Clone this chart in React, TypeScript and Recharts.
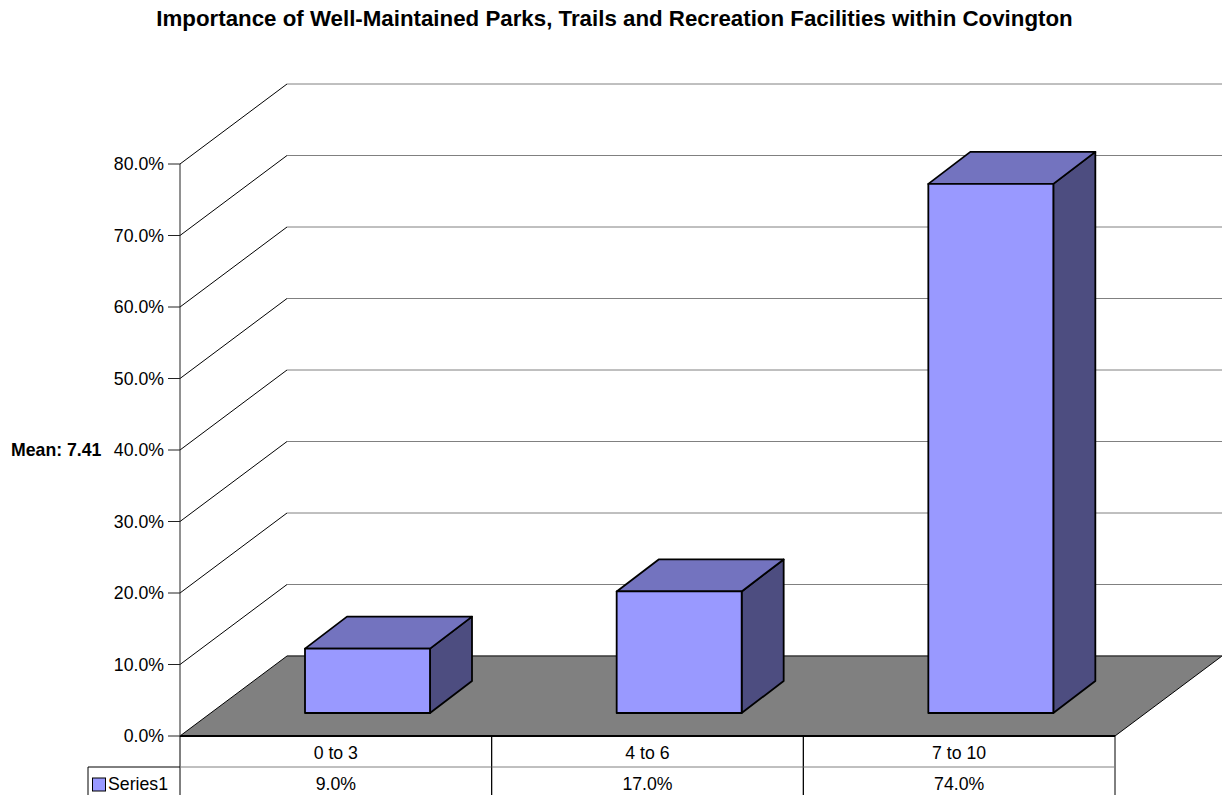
import { Bar, BarChart, ReferenceLine, XAxis, YAxis } from 'recharts'

const title =
  'Importance of Well-Maintained Parks, Trails and Recreation Facilities within Covington'
const categories = ['0 to 3', '4 to 6', '7 to 10']
const series1 = [9.0, 17.0, 74.0]
const seriesName = 'Series1'
const yTicks = [0, 10, 20, 30, 40, 50, 60, 70, 80]
const meanLabel = 'Mean: 7.41'

const data = categories.map((category, i) => ({ category, value: series1[i] }))

const W = 1222
const H = 795
const MARGIN = { top: 164, right: 107, bottom: 0, left: 0 }
const Y_AXIS_W = 180
const X_AXIS_H = 59
const PLOT_W = W - Y_AXIS_W - MARGIN.right
const BAND = PLOT_W / categories.length

// fake 3d: depth of the floor / walls and where the bars sit in it
const DEPTH_X = 107
const DEPTH_Y = 80
const BAR_SHIFT_X = 31.5
const BAR_SHIFT_Y = 23
const BAR_DEPTH_X = 42
const BAR_DEPTH_Y = 32

const ROW_H = 31
const LEGEND_W = 92
const FONT = '"Liberation Sans", Arial, Helvetica, sans-serif'
const FS = 17.7

const FRONT = '#9999ff'
const TOP = '#7373bf'
const SIDE = '#4d4d80'
const FLOOR = '#808080'

function pct(v: number) {
  return `${v.toFixed(1)}%`
}

function WallLine(props: any) {
  const { x1, y1, x2 } = props
  return (
    <g>
      <line x1={x1} y1={y1} x2={x1 + DEPTH_X} y2={y1 - DEPTH_Y} stroke="#000" />
      <line
        x1={x1 + DEPTH_X}
        y1={y1 - DEPTH_Y}
        x2={x2 + DEPTH_X}
        y2={y1 - DEPTH_Y}
        stroke="#808080"
      />
    </g>
  )
}

function Floor(props: any) {
  const { x1, y1, x2 } = props
  const pts = `${x1},${y1} ${x2},${y1} ${x2 + DEPTH_X},${y1 - DEPTH_Y} ${x1 + DEPTH_X},${y1 - DEPTH_Y}`
  return (
    <g>
      <polygon points={pts} fill={FLOOR} stroke="#000" strokeWidth={1} />
      <line
        x1={x1 + DEPTH_X}
        y1={y1 - DEPTH_Y}
        x2={x2 + DEPTH_X}
        y2={y1 - DEPTH_Y}
        stroke="#555"
      />
    </g>
  )
}

function Box3D(props: any) {
  const { x, y, width, height } = props
  const fx = x + BAR_SHIFT_X
  const fy = y - BAR_SHIFT_Y
  const bx = BAR_DEPTH_X
  const by = BAR_DEPTH_Y
  const top = `${fx},${fy} ${fx + bx},${fy - by} ${fx + width + bx},${fy - by} ${fx + width},${fy}`
  const side = `${fx + width},${fy} ${fx + width + bx},${fy - by} ${fx + width + bx},${fy + height - by} ${fx + width},${fy + height}`
  return (
    <g stroke="#000" strokeWidth={1.8} strokeLinejoin="round">
      <polygon points={side} fill={SIDE} />
      <polygon points={top} fill={TOP} />
      <rect x={fx} y={fy} width={width} height={height} fill={FRONT} />
    </g>
  )
}

function TableTick(props: any) {
  const { x, y, payload } = props
  const i = payload.index
  const left = x - BAND / 2
  const right = x + BAND / 2
  return (
    <g fontSize={FS} fill="#000">
      <line x1={left} y1={y} x2={left} y2={y + X_AXIS_H} stroke="#000" />
      <line x1={right} y1={y} x2={right} y2={y + X_AXIS_H} stroke="#000" />
      <line x1={left} y1={y + ROW_H} x2={right} y2={y + ROW_H} stroke="#808080" />
      <text x={x} y={y + ROW_H / 2 + 1} textAnchor="middle" dominantBaseline="central">
        {categories[i]}
      </text>
      <text x={x} y={y + ROW_H * 1.5 + 1} textAnchor="middle" dominantBaseline="central">
        {pct(series1[i])}
      </text>
      {i === 0 && (
        <g>
          <line x1={left - LEGEND_W} y1={y + ROW_H} x2={left} y2={y + ROW_H} stroke="#000" />
          <line
            x1={left - LEGEND_W}
            y1={y + ROW_H}
            x2={left - LEGEND_W}
            y2={y + X_AXIS_H}
            stroke="#000"
          />
          <rect
            x={left - LEGEND_W + 4.5}
            y={y + ROW_H + 11}
            width={13}
            height={13}
            fill={FRONT}
            stroke="#000"
          />
          <text x={left - LEGEND_W + 20} y={y + ROW_H * 1.5 + 1} dominantBaseline="central">
            {seriesName}
          </text>
        </g>
      )}
    </g>
  )
}

export default function App() {
  return (
    <div
      style={{
        position: 'absolute',
        left: 0,
        top: 0,
        width: W,
        height: H,
        background: '#fff',
        fontFamily: FONT,
      }}
    >
      <div
        style={{
          position: 'absolute',
          top: 6,
          left: 0,
          width: W + 7,
          textAlign: 'center',
          fontSize: 22.3,
          lineHeight: '26px',
          fontWeight: 'bold',
          color: '#000',
        }}
      >
        {title}
      </div>
      <BarChart width={W} height={H} data={data} margin={MARGIN} barCategoryGap="30%">
        <ReferenceLine y={0} shape={Floor} zIndex={-100} />
        {yTicks.slice(1).map((t) => (
          <ReferenceLine key={t} y={t} shape={WallLine} zIndex={-100} />
        ))}
        <XAxis
          dataKey="category"
          height={X_AXIS_H}
          interval={0}
          tickSize={0}
          tickMargin={0}
          tickLine={false}
          axisLine={{ stroke: '#000', strokeWidth: 2 }}
          tick={TableTick}
        />
        <YAxis
          width={Y_AXIS_W}
          domain={[0, 80]}
          ticks={yTicks}
          interval={0}
          tickFormatter={pct}
          tickSize={12}
          tickMargin={4}
          axisLine={{ stroke: '#222' }}
          tickLine={{ stroke: '#222' }}
          tick={{ fill: '#000', fontSize: FS }}
          label={{
            value: meanLabel,
            position: 'insideLeft',
            offset: 11,
            fill: '#000',
            fontSize: FS,
            fontWeight: 'bold',
          }}
        />
        <Bar dataKey="value" shape={Box3D} isAnimationActive={false} />
      </BarChart>
    </div>
  )
}
